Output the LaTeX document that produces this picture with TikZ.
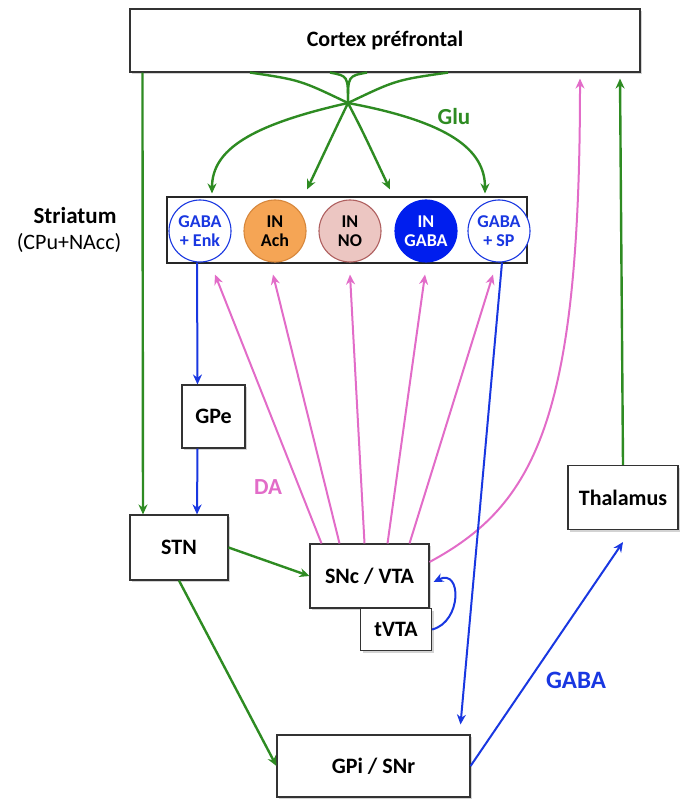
\documentclass[tikz,border=0pt]{standalone}
\usepackage{fontspec}
\setmainfont{Carlito}
\usepackage{tikz}
\usetikzlibrary{arrows.meta,shadows}

\definecolor{glugreen}{RGB}{46,139,34}
\definecolor{dapink}{RGB}{226,108,200}
\definecolor{gabablue}{RGB}{25,55,225}
\definecolor{achfill}{RGB}{245,165,85}
\definecolor{achline}{RGB}{215,135,60}
\definecolor{nofill}{RGB}{236,198,194}
\definecolor{noline}{RGB}{175,95,95}
\definecolor{ingaba}{RGB}{0,30,238}

\tikzset{
  area/.style={draw=black!80, fill=white, line width=1.1pt, inner sep=0pt,
    drop shadow={shadow xshift=2pt, shadow yshift=-2pt, opacity=0.35},
    font=\fontsize{22}{24}\selectfont\bfseries},
  neuron/.style={circle, draw, line width=1.1pt, minimum size=62pt, inner sep=0pt,
    align=center, font=\fontsize{18}{19}\selectfont\bfseries},
  glu/.style={glugreen, line width=2.4pt},
  da/.style={dapink, line width=2pt},
  gaba/.style={gabablue, line width=2pt},
  tip/.style={-{Stealth[length=10pt,width=9pt]}}
}

\begin{document}
\begin{tikzpicture}[x=1pt,y=-1pt]
  \useasboundingbox (0,0) rectangle (679,799);

  \node[area, minimum width=510pt, minimum height=63pt] (cortex) at (385,40.5) {Cortex préfrontal};
  \node[draw=black!85, line width=1.4pt, fill=white, minimum width=360pt, minimum height=66pt, inner sep=0pt] (striatum) at (347,230) {};

  \node[neuron, draw=gabablue, fill=white, text=gabablue] (enk) at (200,231) {GABA\\+ Enk};
  \node[neuron, draw=achline, fill=achfill] (ach) at (275,231) {IN\\Ach};
  \node[neuron, draw=noline, fill=nofill] (no) at (350,231) {IN\\NO};
  \node[neuron, draw=ingaba, fill=ingaba, text=white] (ingaba) at (426,231) {IN\\GABA};
  \node[neuron, draw=gabablue, fill=white, text=gabablue] (sp) at (499,231) {GABA\\+ SP};

  \node[font=\fontsize{23}{25}\selectfont\bfseries] (striatumlbl) at (75,216) {Striatum};
  \node[font=\fontsize{22}{24}\selectfont] (striatumsub) at (69,243) {(CPu+NAcc)};

  \node[area, minimum width=63pt, minimum height=63pt] (gpe) at (213.5,416.5) {GPe};
  \node[area, minimum width=98pt, minimum height=65pt] (stn) at (179,547.5) {STN};
  \node[area, minimum width=119pt, minimum height=64pt] (snc) at (369.5,576) {SNc / VTA};
  \node[area, minimum width=71pt, minimum height=42pt] (tvta) at (396,629.5) {tVTA};
  \node[area, minimum width=193pt, minimum height=62pt] (gpi) at (373.5,766) {GPi / SNr};
  \node[area, minimum width=110pt, minimum height=64pt] (thal) at (623,497.5) {Thalamus};

  \node[glugreen, font=\fontsize{23}{25}\selectfont\bfseries] (glulbl) at (454,117) {Glu};
  \node[dapink, font=\fontsize{23}{25}\selectfont\bfseries] (dalbl) at (268,487) {DA};
  \node[gabablue, font=\fontsize{25}{27}\selectfont\bfseries] (gabalbl) at (576,680) {GABA};

  % Glu fan from the cortex
  \coordinate (hub) at (348,103);
  \draw[glu] ([xshift=-135pt]cortex.south) .. controls (300,80) .. (hub);
  \draw[glu] ([xshift=-55pt]cortex.south) .. controls (348,76) .. (hub);
  \draw[glu] ([xshift=-18pt]cortex.south) .. controls (348,76) .. (hub);
  \draw[glu] ([xshift=63pt]cortex.south) .. controls (396,80) .. (hub);
  \draw[glu, tip] (hub) .. controls (250,125) and (212,150) .. ([xshift=12pt,yshift=6pt]enk.north);
  \draw[glu, tip] (hub) .. controls (335,130) .. ([xshift=32pt,yshift=10pt]ach.north);
  \draw[glu, tip] (hub) .. controls (362,130) .. ([xshift=40pt,yshift=10pt]no.north);
  \draw[glu, tip] (hub) .. controls (450,122) and (485,150) .. ([xshift=-14pt,yshift=6pt]sp.north);

  % long projections
  \draw[glu, tip] ([xshift=13pt]cortex.south west) -- ([xshift=-36pt]stn.north);
  \draw[glu, tip] (thal.north) -- ([xshift=235pt,yshift=-6pt]cortex.south);
  \draw[glu, tip] (stn.east) -- (snc.west);
  \draw[glu, tip] (stn.south) -- (gpi.west);

  % DA
  \draw[da, tip] ([xshift=-48pt]snc.north) -- ([xshift=15pt,yshift=-12pt]enk.south);
  \draw[da, tip] ([xshift=-30pt]snc.north) -- ([xshift=-2pt,yshift=-12pt]ach.south);
  \draw[da, tip] ([xshift=-5pt]snc.north) -- ([yshift=-12pt]no.south);
  \draw[da, tip] ([xshift=18pt]snc.north) -- ([xshift=-1pt,yshift=-12pt]ingaba.south);
  \draw[da, tip] ([xshift=40pt]snc.north) -- ([xshift=-6pt,yshift=-12pt]sp.south);
  \draw[da, tip] ([yshift=14pt]snc.east) .. controls (535,505) and (580,420) .. ([xshift=195pt,yshift=-6pt]cortex.south);

  % GABA
  \draw[gaba, tip] ([xshift=-3pt]enk.south) -- ([xshift=-16pt]gpe.north);
  \draw[gaba, tip] ([xshift=-16pt]gpe.south) -- ([xshift=18pt]stn.north);
  \draw[gaba, tip] ([xshift=3pt]sp.south) -- ([xshift=87pt,yshift=10pt]gpi.north);
  \draw[gaba, tip] (gpi.east) -- ([yshift=-12pt]thal.south);
  \draw[gaba, tip] (tvta.east) .. controls (462,622) and (462,568) .. ([xshift=4pt,yshift=-6pt]snc.east);
\end{tikzpicture}
\end{document}
